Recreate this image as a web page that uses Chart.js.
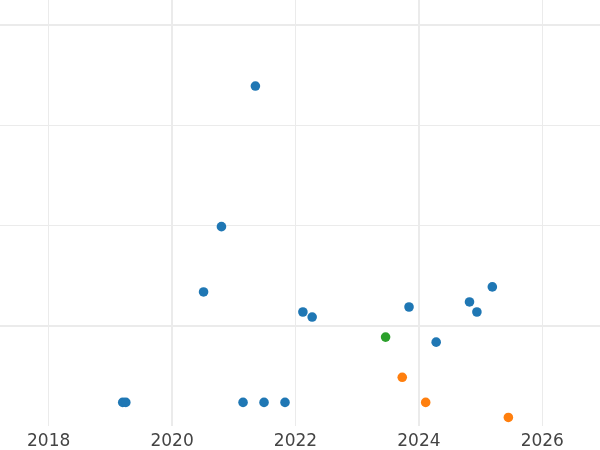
<!DOCTYPE html>
<html>
<head>
  <meta charset="UTF-8">
  <style>
    html, body { margin: 0; padding: 0; background: #fff; }
    #wrap { width: 600px; height: 450px; }
  </style>
</head>
<body>
  <div id="wrap"><canvas id="scatterChart"></canvas></div>

  <script src="https://cdn.jsdelivr.net/npm/chart.js@4.4.0/dist/chart.umd.min.js"></script>
  <script>
    // x = year (decimal), y = value (unlabelled axis)
    const blueX = [2021.35, 2020.80, 2020.51, 2022.12, 2022.27, 2023.84, 2024.82, 2024.94, 2025.19, 2024.28, 2019.20, 2019.25, 2021.15, 2021.49, 2021.83]
    const blueY = [2.39, 0.99, 0.34, 0.14, 0.09, 0.19, 0.24, 0.14, 0.39, -0.16, -0.76, -0.76, -0.76, -0.76, -0.76]
    const orangeX = [2023.73, 2024.11, 2025.45]
    const orangeY = [-0.51, -0.76, -0.91]
    const greenX = [2023.46]
    const greenY = [-0.11]

    const xTicks = [2018, 2020, 2022, 2024, 2026]
    const yTicks = [0, 1, 2, 3]

    const toPoints = (xs, ys) => xs.map((x, i) => ({ x: x, y: ys[i] }))

    const ctx = document.getElementById("scatterChart").getContext("2d")

    const chart = new Chart(ctx, {
      type: "scatter",
      data: {
        datasets: [
          { label: "blue", data: toPoints(blueX, blueY), backgroundColor: "#1f77b4" },
          { label: "orange", data: toPoints(orangeX, orangeY), backgroundColor: "#ff7f0e" },
          { label: "green", data: toPoints(greenX, greenY), backgroundColor: "#2ca02c" }
        ]
      },
      options: {
        responsive: true,
        maintainAspectRatio: false,
        animation: false,
        layout: { padding: 0, autoPadding: false },
        elements: {
          point: { radius: 4.8, borderWidth: 0, hoverRadius: 5 }
        },
        plugins: {
          legend: { display: false },
          tooltip: { enabled: true }
        },
        scales: {
          x: {
            type: "linear",
            min: 2017.211,
            max: 2026.935,
            afterBuildTicks: (scale) => { scale.ticks = xTicks.map(v => ({ value: v })) },
            afterFit: (scale) => { scale.height = 24 },
            border: { display: false },
            grid: {
              color: "#ebebeb",
              drawTicks: false,
              lineWidth: (c) => (c.tick && (c.tick.value === 2020 || c.tick.value === 2024)) ? 2 : 1
            },
            ticks: {
              padding: 5,
              color: "#444",
              font: { family: "DejaVu Sans", size: 17 },
              callback: (v) => String(v)
            }
          },
          y: {
            type: "linear",
            min: -0.995,
            max: 3.247,
            afterBuildTicks: (scale) => { scale.ticks = yTicks.map(v => ({ value: v })) },
            afterFit: (scale) => { scale.width = 0 },
            border: { display: false },
            grid: {
              color: "#ebebeb",
              drawTicks: false,
              lineWidth: (c) => (c.tick && (c.tick.value === 0 || c.tick.value === 3)) ? 2 : 1
            },
            ticks: { display: false }
          }
        }
      }
    })
  </script>
</body>
</html>
